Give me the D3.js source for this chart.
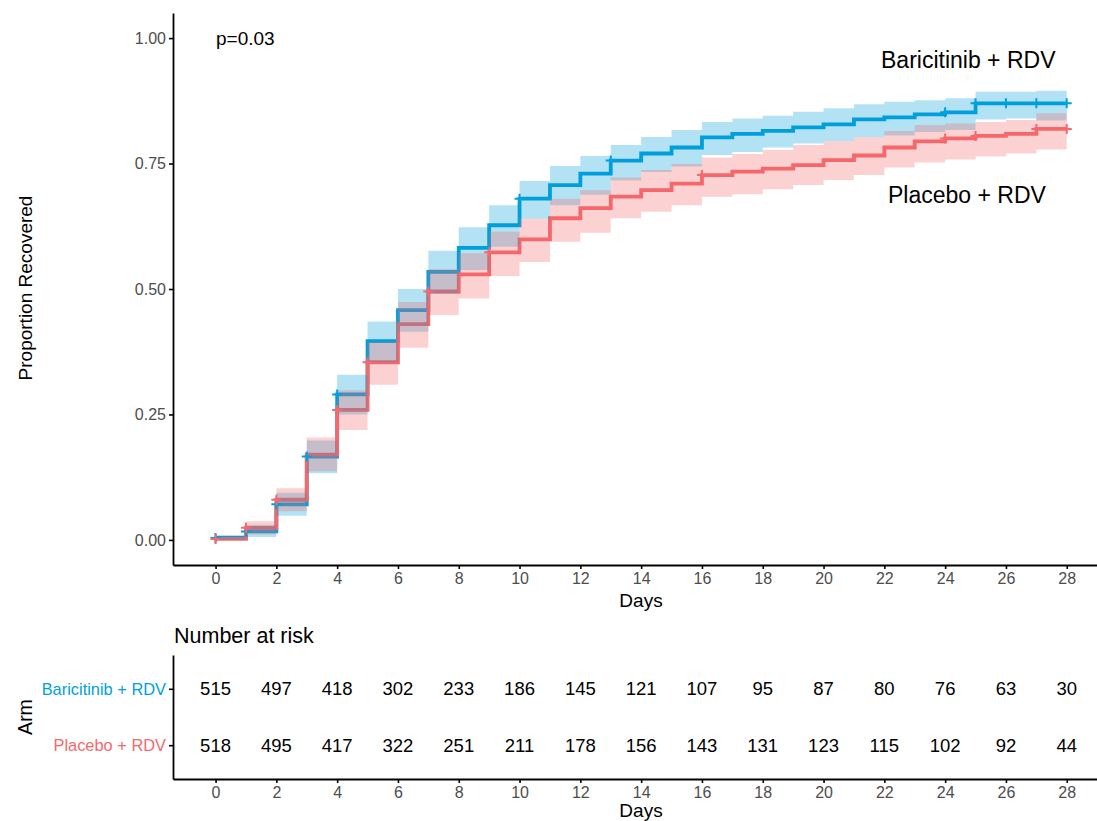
<!DOCTYPE html>
<html>
<head>
<meta charset="utf-8">
<script src="https://cdn.jsdelivr.net/npm/d3@7"></script>
<style>
  html, body { margin: 0; padding: 0; background: #fff; }
  svg { display: block; font-family: "Liberation Sans", Arial, sans-serif; }
</style>
</head>
<body>
<svg id="chart" width="1097" height="821"></svg>
<script>
// step curves: value on [day, day+1)
var days = d3.range(0, 28);
var armNames = ["Baricitinib + RDV", "Placebo + RDV"];

var bariEst   = [0.004,0.017,0.071,0.166,0.290,0.396,0.458,0.534,0.582,0.627,0.680,0.707,0.730,0.756,0.770,0.782,0.802,0.809,0.815,0.822,0.828,0.838,0.842,0.848,0.852,0.870,0.870,0.870];
var bariUpper = [0.010,0.030,0.094,0.198,0.329,0.435,0.500,0.576,0.623,0.667,0.715,0.745,0.765,0.787,0.803,0.817,0.833,0.840,0.845,0.853,0.860,0.868,0.873,0.876,0.880,0.893,0.893,0.895];
var bariLower = [0.000,0.006,0.048,0.133,0.250,0.354,0.415,0.490,0.538,0.584,0.640,0.667,0.688,0.716,0.733,0.744,0.767,0.773,0.782,0.790,0.795,0.803,0.806,0.813,0.817,0.838,0.840,0.836];

var placEst   = [0.002,0.024,0.080,0.170,0.259,0.354,0.430,0.495,0.529,0.573,0.599,0.641,0.661,0.684,0.697,0.710,0.727,0.734,0.740,0.747,0.757,0.766,0.782,0.794,0.800,0.805,0.809,0.819];
var placUpper = [0.006,0.037,0.103,0.204,0.298,0.395,0.474,0.540,0.571,0.614,0.640,0.680,0.697,0.722,0.737,0.749,0.762,0.769,0.777,0.787,0.795,0.803,0.815,0.827,0.830,0.833,0.837,0.850];
var placLower = [0.000,0.011,0.057,0.137,0.219,0.309,0.383,0.448,0.481,0.526,0.554,0.594,0.612,0.641,0.654,0.667,0.684,0.689,0.699,0.707,0.717,0.727,0.742,0.752,0.758,0.764,0.770,0.778];

var bariCensor = [0,1,2,3,4,10,13,24,25,26,27,28];
var placCensor = [0,1,2,4,5,7,9,16,24,25,27,28];

var riskDays = [0,2,4,6,8,10,12,14,16,18,20,22,24,26,28];
var bariRisk = [515,497,418,302,233,186,145,121,107,95,87,80,76,63,30];
var placRisk = [518,495,417,322,251,211,178,156,143,131,123,115,102,92,44];

var xTicks = d3.range(0, 29, 2);
var yTicks = [0, 0.25, 0.5, 0.75, 1];

var colors = {"Baricitinib + RDV": "#00A0DC", "Placebo + RDV": "#F5686B"};

var svg = d3.select("#chart");

var x = d3.scaleLinear().domain([-1.4, 29.4]).range([173, 1109.3]);
var y = d3.scaleLinear().domain([-0.05, 1.05]).range([565, 13]);

function series(name, est, lo, hi, cens) {
  var pts = days.map(function(d, i) { return {t: d, v: est[i], lo: lo[i], hi: hi[i]}; });
  var last = pts[pts.length - 1];
  pts.push({t: 28, v: last.v, lo: last.lo, hi: last.hi});
  return {name: name, pts: pts, cens: cens};
}
var groups = [
  series(armNames[0], bariEst, bariLower, bariUpper, bariCensor),
  series(armNames[1], placEst, placLower, placUpper, placCensor)
];

var line = d3.line().curve(d3.curveStepAfter)
  .x(function(d) { return x(d.t); }).y(function(d) { return y(d.v); });
var band = d3.area().curve(d3.curveStepAfter)
  .x(function(d) { return x(d.t); })
  .y0(function(d) { return y(d.lo); }).y1(function(d) { return y(d.hi); });

// lines first, ribbons over them
groups.forEach(function(g) {
  svg.append("path").attr("d", line(g.pts))
    .attr("fill", "none").attr("stroke", colors[g.name]).attr("stroke-width", 3.8);
});
groups.forEach(function(g) {
  svg.append("path").attr("d", band(g.pts))
    .attr("fill", colors[g.name]).attr("fill-opacity", 0.3);
});
groups.forEach(function(g) {
  g.cens.forEach(function(t) {
    var v = g.pts[Math.min(t, 28)].v;
    var cx = x(t), cy = y(v);
    svg.append("path")
      .attr("d", "M" + (cx - 5) + "," + cy + "H" + (cx + 5) + "M" + cx + "," + (cy - 5) + "V" + (cy + 5))
      .attr("stroke", colors[g.name]).attr("stroke-width", 2);
  });
});

// axes
function styleAxis(sel) {
  sel.select(".domain").attr("stroke", "#000").attr("stroke-width", 1.8);
  sel.selectAll(".tick line").attr("stroke", "#000").attr("stroke-width", 1.6);
  sel.selectAll(".tick text").attr("fill", "#4D4D4D").style("font-size", "16px")
    .style("font-family", "'Liberation Sans', Arial, sans-serif");
}
svg.append("g").attr("transform", "translate(0,565)")
  .call(d3.axisBottom(x).tickValues(xTicks).tickSize(4).tickSizeOuter(0).tickPadding(4))
  .call(styleAxis);
svg.append("g").attr("transform", "translate(173,0)")
  .call(d3.axisLeft(y).tickValues(yTicks).tickFormat(d3.format(".2f")).tickSize(4).tickSizeOuter(0).tickPadding(3))
  .call(styleAxis);

svg.append("text").attr("x", 641).attr("y", 607).attr("text-anchor", "middle")
  .style("font-size", "19px").text("Days");
svg.append("text").attr("transform", "translate(32,288) rotate(-90)").attr("text-anchor", "middle")
  .style("font-size", "19px").text("Proportion Recovered");
svg.append("text").attr("x", 216).attr("y", 45).style("font-size", "19px").text("p=0.03");
svg.append("text").attr("x", 881).attr("y", 68).style("font-size", "23px").text("Baricitinib + RDV");
svg.append("text").attr("x", 888).attr("y", 203).style("font-size", "23px").text("Placebo + RDV");

// risk table
var ry = d3.scalePoint().domain(armNames).range([655, 779]).padding(0.6);
svg.append("text").attr("x", 174).attr("y", 643).style("font-size", "21.5px").text("Number at risk");

var riskRows = [{name: armNames[0], vals: bariRisk}, {name: armNames[1], vals: placRisk}];
riskRows.forEach(function(r) {
  svg.append("g").selectAll("text").data(r.vals).enter().append("text")
    .attr("x", function(d, i) { return x(riskDays[i]); })
    .attr("y", ry(r.name)).attr("dy", "0.35em")
    .attr("text-anchor", "middle").style("font-size", "18.5px").attr("fill", "#000")
    .text(function(d) { return d; });
});

svg.append("g").attr("transform", "translate(0,779)")
  .call(d3.axisBottom(x).tickValues(xTicks).tickSize(4).tickSizeOuter(0).tickPadding(4))
  .call(styleAxis);
var ay = svg.append("g").attr("transform", "translate(173,0)")
  .call(d3.axisLeft(ry).tickSize(4).tickSizeOuter(0).tickPadding(3))
  .call(styleAxis);
ay.selectAll(".tick text").attr("fill", function(d) { return colors[d]; })
  .style("font-size", "16.4px");

svg.append("text").attr("x", 641).attr("y", 817).attr("text-anchor", "middle")
  .style("font-size", "19px").text("Days");
svg.append("text").attr("transform", "translate(32,717) rotate(-90)").attr("text-anchor", "middle")
  .style("font-size", "19.5px").text("Arm");
</script>
</body>
</html>
